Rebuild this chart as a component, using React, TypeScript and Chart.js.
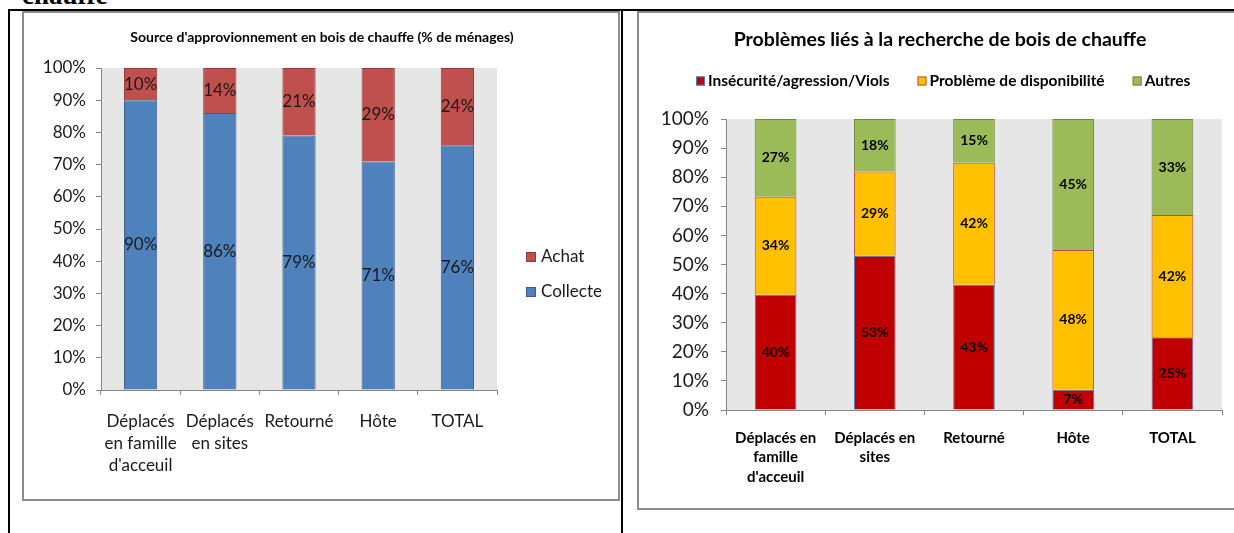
import React, { useEffect, useRef } from "react";
import { Chart, registerables } from "chart.js";

Chart.register(...registerables);

// ---------- Data: left chart ----------
const leftTitle = "Source d'approvionnement en bois de chauffe (% de ménages)";
const leftCategories = [["Déplacés", "en famille", "d'acceuil"], ["Déplacés", "en sites"], "Retourné", "Hôte", "TOTAL"];
const collecte = [90, 86, 79, 71, 76];
const achat = [10, 14, 21, 29, 24];

// ---------- Data: right chart ----------
const rightTitle = "Problèmes liés à la recherche de bois de chauffe";
const rightCategories = [["Déplacés en", "famille", "d'acceuil"], ["Déplacés en", "sites"], "Retourné", "Hôte", "TOTAL"];
const insecurite = [40, 53, 43, 7, 25];
const disponibilite = [34, 29, 42, 48, 42];
const autres = [27, 18, 15, 45, 33];

const headingTail = "chauffe";

const FONT = "Lato, 'Open Sans', sans-serif";
const AXIS_GRAY = "#868686";
const TEXT = "#1a1a1a";

// 100% stacked: share of each series in its category
const shares = (series: number[][]) =>
  series.map((s) => s.map((v, j) => (v / series.reduce((acc, t) => acc + t[j], 0)) * 100));

const plotBg = {
  id: "plotBg",
  beforeDraw(chart: any, _a: any, opts: any) {
    const { ctx, chartArea: a } = chart;
    ctx.save();
    ctx.fillStyle = opts.color;
    ctx.fillRect(a.left, a.top, a.right - a.left, a.bottom - a.top);
    ctx.restore();
  },
};

const segLabels = {
  id: "segLabels",
  afterDatasetsDraw(chart: any, _a: any, opts: any) {
    const ctx = chart.ctx;
    ctx.save();
    ctx.font = opts.font;
    ctx.fillStyle = opts.color;
    ctx.textAlign = "center";
    ctx.textBaseline = "middle";
    chart.data.datasets.forEach((ds: any, i: number) => {
      const meta = chart.getDatasetMeta(i);
      meta.data.forEach((el: any, j: number) => {
        const v = ds.rawValues ? ds.rawValues[j] : ds.data[j];
        const p = el.getProps(["x", "y", "base"], true);
        ctx.fillText(v + "%", p.x, (p.y + p.base) / 2 + (opts.dy || 0));
      });
    });
    ctx.restore();
  },
};

const decor = {
  id: "decor",
  afterDraw(chart: any, _a: any, o: any) {
    const ctx = chart.ctx;
    ctx.save();
    ctx.textBaseline = "middle";
    ctx.textAlign = "center";
    ctx.font = o.titleFont;
    ctx.fillStyle = "#000";
    ctx.fillText(o.title, o.titleX, o.titleY);
    ctx.textAlign = "left";
    ctx.font = o.legendFont;
    let x = o.legendX;
    let y = o.legendY;
    const b = o.box;
    o.order.forEach((i: number) => {
      const ds = chart.data.datasets[i];
      ctx.fillStyle = ds.backgroundColor;
      ctx.fillRect(x, y - b / 2, b, b);
      ctx.strokeStyle = ds.borderColor;
      ctx.lineWidth = 1;
      ctx.strokeRect(x + 0.5, y - b / 2 + 0.5, b - 1, b - 1);
      ctx.fillStyle = o.legendColor;
      ctx.fillText(ds.label, x + b + o.gap, y);
      if (o.horizontal) x += b + o.gap + ctx.measureText(ds.label).width + o.itemGap;
      else y += o.itemGap;
    });
    ctx.restore();
  },
};

function makeScales(p: any) {
  return {
    x: {
      stacked: true,
      ticks: {
        font: { family: FONT, size: p.xSize, weight: p.xWeight, lineHeight: p.xLine },
        color: p.xColor,
        padding: p.xPad,
        maxRotation: 0,
        autoSkip: false,
      },
      grid: { drawOnChartArea: false, drawTicks: true, tickLength: 5, color: AXIS_GRAY, offset: true },
      border: { display: true, color: AXIS_GRAY, width: 1 },
      afterFit: (s: any) => {
        s.height = p.xHeight;
      },
    },
    y: {
      stacked: true,
      min: 0,
      max: 100,
      ticks: {
        stepSize: 10,
        callback: (v: any) => v + "%",
        font: { family: FONT, size: p.ySize },
        color: TEXT,
        padding: p.yPad,
      },
      grid: { drawOnChartArea: false, drawTicks: true, tickLength: 5, color: AXIS_GRAY },
      border: { display: true, color: AXIS_GRAY, width: 1 },
      afterFit: (s: any) => {
        s.width = p.yWidth;
      },
    },
  };
}

function leftConfig(): any {
  return {
    type: "bar",
    data: {
      labels: leftCategories,
      datasets: [
        { label: "Collecte", data: collecte, backgroundColor: "#4F81BD", borderColor: "#3A5F8B", borderWidth: 1 },
        { label: "Achat", data: achat, backgroundColor: "#C0504D", borderColor: "#8E3B39", borderWidth: 1 },
      ],
    },
    options: {
      responsive: false,
      animation: false,
      datasets: { bar: { categoryPercentage: 1, barPercentage: 0.42 } },
      layout: { padding: { top: 55, right: 121, bottom: 0, left: 0 } },
      scales: makeScales({
        xSize: 17, xWeight: "normal", xLine: 1.3, xColor: TEXT, xPad: 15, xHeight: 109,
        ySize: 17, yPad: 10, yWidth: 77,
      }),
      plugins: {
        legend: { display: false },
        title: { display: false },
        tooltip: { enabled: false },
        plotBg: { color: "#E6E6E6" },
        segLabels: { font: `17px ${FONT}`, color: TEXT, dy: 0 },
        decor: {
          title: leftTitle, titleFont: `bold 14px ${FONT}`, titleX: 298, titleY: 24,
          legendFont: `17px ${FONT}`, legendColor: TEXT, legendX: 502, legendY: 244,
          box: 10, gap: 5, itemGap: 35, horizontal: false, order: [1, 0],
        },
      },
    },
    plugins: [plotBg, segLabels, decor],
  };
}

function rightConfig(): any {
  const [s1, s2, s3] = shares([insecurite, disponibilite, autres]);
  return {
    type: "bar",
    data: {
      labels: rightCategories,
      datasets: [
        { label: "Insécurité/agression/Viols", data: s1, rawValues: insecurite, backgroundColor: "#C00000", borderColor: "#4A7EBB", borderWidth: 1 },
        { label: "Problème de disponibilité", data: s2, rawValues: disponibilite, backgroundColor: "#FFC000", borderColor: "#BE4B48", borderWidth: 1 },
        { label: "Autres", data: s3, rawValues: autres, backgroundColor: "#9BBB59", borderColor: "#71893F", borderWidth: 1 },
      ],
    },
    options: {
      responsive: false,
      animation: false,
      datasets: { bar: { categoryPercentage: 1, barPercentage: 0.42 } },
      layout: { padding: { top: 106, right: 12, bottom: 0, left: 0 } },
      scales: makeScales({
        xSize: 15, xWeight: "bold", xLine: 1.3, xColor: "#000", xPad: 13, xHeight: 98,
        ySize: 19, yPad: 12, yWidth: 87,
      }),
      plugins: {
        legend: { display: false },
        title: { display: false },
        tooltip: { enabled: false },
        plotBg: { color: "#E6E6E6" },
        segLabels: { font: `bold 14px ${FONT}`, color: "#000", dy: 0 },
        decor: {
          title: rightTitle, titleFont: `bold 19.5px ${FONT}`, titleX: 301, titleY: 27,
          legendFont: `bold 15.5px ${FONT}`, legendColor: "#000", legendX: 57, legendY: 68,
          box: 9, gap: 3, itemGap: 28, horizontal: true, order: [0, 1, 2],
        },
      },
    },
    plugins: [plotBg, segLabels, decor],
  };
}

function ChartBox({ make, w, h }: { make: () => any; w: number; h: number }) {
  const ref = useRef<HTMLCanvasElement | null>(null);
  useEffect(() => {
    const chart = new Chart(ref.current as HTMLCanvasElement, make());
    return () => chart.destroy();
  }, []);
  return <canvas ref={ref} width={w} height={h} style={{ display: "block", width: w, height: h }} />;
}

export default function App() {
  const border = "2px solid #8C8C8C";
  return (
    <div style={{ position: "fixed", left: 0, top: 0, width: 1234, height: 533, overflow: "hidden", background: "#fff" }}>
      <div
        style={{
          position: "absolute", left: 22, top: -18, fontFamily: "'Liberation Serif', serif",
          fontWeight: "bold", fontSize: 27, lineHeight: "26px", color: "#000", whiteSpace: "nowrap",
        }}
      >
        {headingTail}
      </div>
      {/* table borders */}
      <div style={{ position: "absolute", left: 8, top: 9, width: 1226, height: 2, background: "#000" }} />
      <div style={{ position: "absolute", left: 8, top: 9, width: 2, height: 524, background: "#000" }} />
      <div style={{ position: "absolute", left: 621, top: 9, width: 2, height: 524, background: "#000" }} />
      {/* left chart frame */}
      <div style={{ position: "absolute", left: 22, top: 11, width: 594, height: 486, border }}>
        <ChartBox make={leftConfig} w={594} h={486} />
      </div>
      {/* right chart frame */}
      <div style={{ position: "absolute", left: 637, top: 11, width: 620, height: 495, border }}>
        <ChartBox make={rightConfig} w={595} h={495} />
      </div>
    </div>
  );
}
